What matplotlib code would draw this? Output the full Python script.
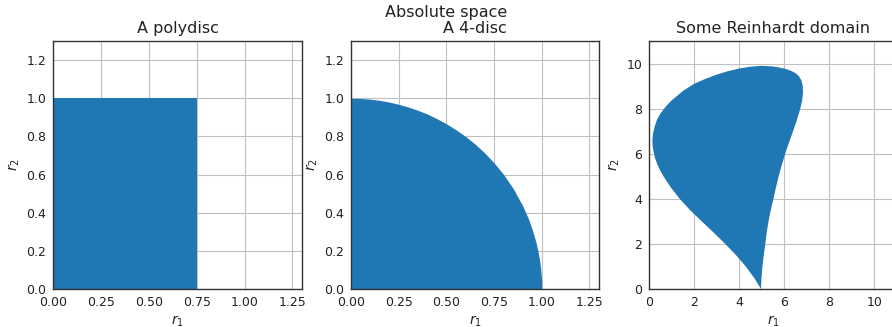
import matplotlib
matplotlib.use("Agg")
import matplotlib.pyplot as plt

# ---- data ----
poly_r1_max = 0.75
poly_r2_max = 1.0

disc_r1 = [0.0, 0.05, 0.1, 0.15, 0.2, 0.25, 0.3, 0.35, 0.4, 0.45, 0.5, 0.55, 0.6, 0.65,
           0.7, 0.75, 0.8, 0.85, 0.9, 0.93, 0.95, 0.97, 0.98, 0.99, 0.995, 0.999, 1.0]
disc_r2 = [1.0, 0.999, 0.995, 0.989, 0.98, 0.968, 0.954, 0.937, 0.917, 0.893, 0.866, 0.835,
           0.8, 0.76, 0.714, 0.661, 0.6, 0.527, 0.436, 0.368, 0.312, 0.243, 0.199, 0.141,
           0.1, 0.045, 0.0]

rein_r1 = [4.97, 4.99, 5.03, 5.09, 5.16, 5.22, 5.30, 5.40, 5.52, 5.63, 5.75, 5.89, 6.04,
           6.21, 6.39, 6.56, 6.71, 6.79, 6.83, 6.82, 6.76, 6.66, 6.52, 6.32, 6.10, 5.80,
           5.50, 5.00, 4.50, 4.00, 3.50, 3.00, 2.50, 2.00, 1.50, 1.00, 0.75, 0.50, 0.35,
           0.25, 0.18, 0.15, 0.16, 0.19, 0.27, 0.38, 0.50, 0.64, 0.97, 1.36, 1.82, 2.34,
           2.87, 3.38, 3.86, 4.29, 4.66, 4.97]
rein_r2 = [0.00, 0.50, 1.00, 1.50, 2.00, 2.50, 3.00, 3.50, 4.00, 4.50, 5.00, 5.50, 6.00,
           6.50, 7.00, 7.50, 8.00, 8.35, 8.70, 9.00, 9.25, 9.42, 9.56, 9.67, 9.75, 9.82,
           9.87, 9.90, 9.86, 9.78, 9.66, 9.51, 9.32, 9.10, 8.78, 8.36, 8.10, 7.77, 7.50,
           7.20, 6.90, 6.60, 6.35, 6.15, 5.80, 5.50, 5.25, 5.00, 4.50, 4.00, 3.50, 3.00,
           2.50, 2.00, 1.50, 1.00, 0.50, 0.00]

titles = ["A polydisc", "A 4-disc", "Some Reinhardt domain"]
suptitle = "Absolute space"
ticks_unit = [0.0, 0.25, 0.5, 0.75, 1.0, 1.25]
yticks_unit = [0.0, 0.2, 0.4, 0.6, 0.8, 1.0, 1.2]
ticks_rein = [0, 2, 4, 6, 8, 10]

BLUE = "#1f77b4"

fig = plt.figure(figsize=(8.92, 3.27), dpi=100)
W, H = 892, 327
def ax_at(left, top, w, h):
    return fig.add_axes([left / W, 1 - (top + h) / H, w / W, h / H])

ax1 = ax_at(53, 41, 249, 248)
ax2 = ax_at(351, 41, 248, 248)
ax3 = ax_at(649, 41, 248, 248)

ax1.fill_between([0, poly_r1_max], 0, poly_r2_max, color=BLUE, linewidth=0)
ax2.fill_between(disc_r1, 0, disc_r2, color=BLUE, linewidth=0)
ax3.fill(rein_r1, rein_r2, color=BLUE, linewidth=0)

for ax in (ax1, ax2):
    ax.set_xlim(0, 1.3)
    ax.set_ylim(0, 1.3)
    ax.set_xticks(ticks_unit)
    ax.set_yticks(yticks_unit)
ax3.set_xlim(0, 11)
ax3.set_ylim(0, 11)
ax3.set_xticks(ticks_rein)
ax3.set_yticks(ticks_rein)

for ax, t in zip((ax1, ax2, ax3), titles):
    ax.set_title(t, fontsize=11.5, color="#222222")
    ax.set_xlabel(r"$r_1$", fontsize=10, color="#222222", labelpad=3)
    ax.set_ylabel(r"$r_2$", fontsize=10, color="#222222", labelpad=3)
    ax.set_axisbelow(True)
    ax.grid(True, color="#c0c0c0", linewidth=0.8)
    ax.tick_params(length=0, pad=5, labelsize=9, labelcolor="#222222")
    for s in ax.spines.values():
        s.set_color("#333333")
        s.set_linewidth(1.0)

fig.text(0.5, 1 - 13 / H, suptitle, ha="center", va="center", fontsize=11.5, color="#222222")

fig.savefig("out.png", dpi=100)
